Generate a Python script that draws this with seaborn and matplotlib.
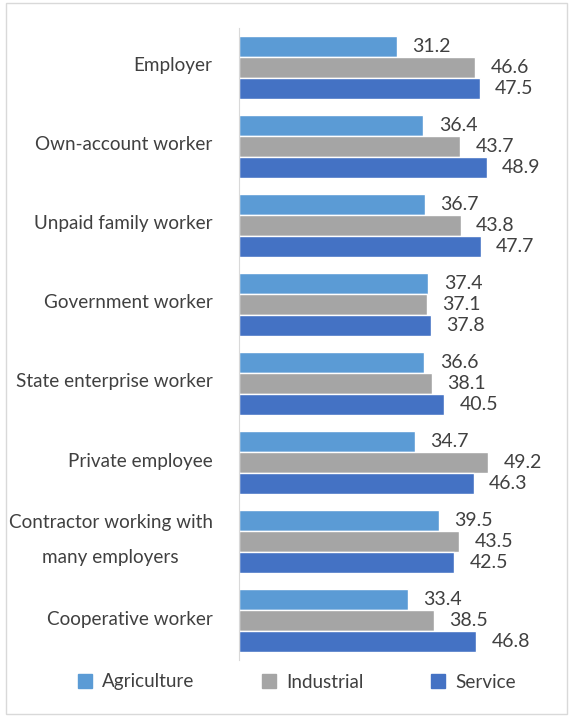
import numpy as np
import pandas as pd
import matplotlib.pyplot as plt
import matplotlib.patches as mpatches
import matplotlib.transforms as mtransforms
import seaborn as sns

sns.set_style("white")
plt.rcParams['font.family'] = ['Lato', 'DejaVu Sans']

categories = ["Employer", "Own-account worker", "Unpaid family worker",
              "Government worker", "State enterprise worker", "Private employee",
              "Contractor working with\nmany employers", "Cooperative worker"]
agriculture = [31.2, 36.4, 36.7, 37.4, 36.6, 34.7, 39.5, 33.4]
industrial = [46.6, 43.7, 43.8, 37.1, 38.1, 49.2, 43.5, 38.5]
service = [47.5, 48.9, 47.7, 37.8, 40.5, 46.3, 42.5, 46.8]
series = ["Agriculture", "Industrial", "Service"]
colors = ["#5B9BD5", "#A5A5A5", "#4472C4"]

df = pd.DataFrame({
    "category": categories * 3,
    "value": agriculture + industrial + service,
    "sector": [s for s in series for _ in categories],
})

fig = plt.figure(figsize=(5.71, 7.17), dpi=100)
ax = fig.add_axes([239 / 571, 1 - 660 / 717, (543 - 239) / 571, (660 - 28) / 717])

sns.barplot(data=df, y="category", x="value", hue="sector", orient="h",
            palette=colors, hue_order=series, order=categories, width=0.8,
            saturation=1, ax=ax, legend=False)

txt = "#404040"
fs = 13.6
for cont in ax.containers:
    ax.bar_label(cont, fmt="%.1f", padding=11, fontsize=14, color=txt)

ax.set_xlim(0, 60)
ax.set_xlabel("")
ax.set_ylabel("")
ax.set_xticks([])
for s in ["top", "right", "bottom"]:
    ax.spines[s].set_visible(False)
ax.spines["left"].set_color("#d9d9d9")
ax.tick_params(axis="y", length=0, pad=19, labelsize=fs, labelcolor=txt)
# nudge category labels up a little (the two-line one a bit more)
for lab in ax.get_yticklabels():
    up = 12 if "\n" in lab.get_text() else 3
    shift = mtransforms.ScaledTranslation(0, up / 100, fig.dpi_scale_trans)
    lab.set_multialignment("center")
    lab.set_linespacing(2.3)
    lab.set_transform(lab.get_transform() + shift)

handles = [mpatches.Patch(color=c, label=s) for s, c in zip(series, colors)]
fig.legend(handles=handles, loc="center", bbox_to_anchor=(0.52, 1 - 682 / 717),
           ncol=3, frameon=False, fontsize=fs, handlelength=0.75, handleheight=0.75,
           columnspacing=3.6, handletextpad=0.5, labelcolor=txt)

fig.patches.append(mpatches.Rectangle((6 / 571, 3 / 717), 561 / 571, 711 / 717,
                                      transform=fig.transFigure, fill=False,
                                      edgecolor="#d9d9d9", lw=1))

fig.savefig("out.png", dpi=100)
